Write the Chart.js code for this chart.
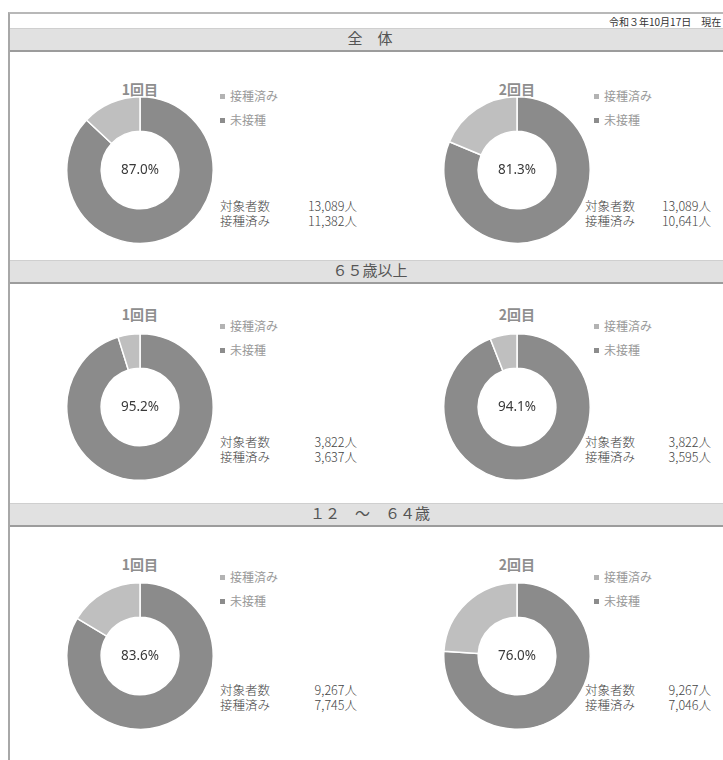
<!DOCTYPE html>
<html><head><meta charset="utf-8">
<script src="https://cdn.jsdelivr.net/npm/chart.js@4/dist/chart.umd.min.js"></script>
<style>
html,body{margin:0;padding:0;background:#fff;}
body{width:723px;height:760px;overflow:hidden;position:relative;font-family:"Noto Sans CJK JP","Noto Sans",sans-serif;}
.frame{position:absolute;left:8px;top:12px;width:800px;height:800px;border-left:2px solid #a8a8a8;border-top:2px solid #b8b8b8;}
.band{position:absolute;left:10px;width:760px;height:21px;background:#e1e1e1;border-top:1px solid #cfcfcf;border-bottom:2px solid #9c9c9c;}
.band span{position:absolute;left:0;width:720px;text-align:center;top:0;line-height:21px;font-family:"DejaVu Serif","Noto Sans CJK JP",serif;font-size:15px;color:#555;}
.date{position:absolute;left:609px;top:14px;font-size:10px;color:#333;white-space:nowrap;}
.title{position:absolute;width:80px;text-align:center;font-size:14px;font-weight:bold;color:#8e8e8e;}
.leg{position:absolute;font-size:12px;color:#9a9a9a;white-space:nowrap;line-height:14px;}
.leg i{display:inline-block;width:5px;height:5px;margin-right:5px;vertical-align:middle;position:relative;top:-1px;}
.stat{position:absolute;font-size:12.5px;color:#444;line-height:15px;white-space:nowrap;font-weight:300;}
.stat b{font-weight:300;position:absolute;right:0;}
canvas{position:absolute;}
</style></head><body>
<div class="frame"></div>
<div class="date">令和３年10月17日　現在</div>
<div id="root"></div>
<script>
// ---- data ----
const groupLabels = ['全　体', '６５歳以上', '１２　～　６４歳'];
const doseLabels = ['1回目', '2回目'];
const sliceLabels = ['接種済み', '未接種'];
const targets    = [13089, 13089, 3822, 3822, 9267, 9267];
const vaccinated = [11382, 10641, 3637, 3595, 7745, 7046];

// ---- layout ----
const bandTop = [28, 260, 503];
const donutCy = [170, 407, 656];
const titleY  = [79, 304, 554];
const legY    = [89, 319, 570];
const statY   = [198, 434, 682];
const colCx   = [140, 517];
const legX    = [220, 594];
const statX   = [220, 585];
const statW   = [137, 126];
const R = 72;
const cDone = '#8b8b8b', cNot = '#bfbfbf';
const legColors = ['#b3b3b3', '#8c8c8c'];

const root = document.getElementById('root');
const fmt = n => n.toLocaleString('en-US');

const centerText = {
  id: 'centerText',
  afterDraw(chart, args, opts) {
    const {ctx} = chart;
    const meta = chart.getDatasetMeta(0).data[0];
    ctx.save();
    ctx.font = '13.5px "Noto Sans","Noto Sans CJK JP",sans-serif';
    ctx.fillStyle = '#3a3a3a';
    ctx.textAlign = 'center';
    ctx.textBaseline = 'middle';
    ctx.fillText(opts.text, meta.x, meta.y);
    ctx.restore();
  }
};

groupLabels.forEach((g, gi) => {
  const band = document.createElement('div');
  band.className = 'band';
  band.style.top = bandTop[gi] + 'px';
  band.innerHTML = '<span>' + g + '</span>';
  root.appendChild(band);

  doseLabels.forEach((d, di) => {
    const k = gi * 2 + di;
    const done = vaccinated[k], total = targets[k];
    const pct = (done / total * 100).toFixed(1) + '%';
    const cx = colCx[di], cy = donutCy[gi];

    const t = document.createElement('div');
    t.className = 'title';
    t.style.left = (cx - 40) + 'px';
    t.style.top = titleY[gi] + 'px';
    t.textContent = d;
    root.appendChild(t);

    const leg = document.createElement('div');
    leg.className = 'leg';
    leg.style.left = legX[di] + 'px';
    leg.style.top = legY[gi] + 'px';
    leg.innerHTML = sliceLabels.map((s, si) =>
      '<div style="margin-bottom:10px"><i style="background:' + legColors[si] + '"></i>' + s + '</div>').join('');
    root.appendChild(leg);

    const st = document.createElement('div');
    st.className = 'stat';
    st.style.left = statX[di] + 'px';
    st.style.top = statY[gi] + 'px';
    st.style.width = statW[di] + 'px';
    st.innerHTML = '<div style="position:relative">対象者数<b>' + fmt(total) + '人</b></div>' +
                   '<div style="position:relative">接種済み<b>' + fmt(done) + '人</b></div>';
    root.appendChild(st);

    const cv = document.createElement('canvas');
    const size = 2 * R + 4;
    cv.width = size; cv.height = size;
    cv.style.width = size + 'px'; cv.style.height = size + 'px';
    cv.style.left = (cx - size / 2) + 'px';
    cv.style.top = (cy - size / 2) + 'px';
    root.appendChild(cv);

    new Chart(cv, {
      type: 'doughnut',
      data: {
        labels: sliceLabels,
        datasets: [{
          data: [done, total - done],
          backgroundColor: [cDone, cNot],
          borderColor: '#ffffff',
          borderWidth: 1.5
        }]
      },
      options: {
        responsive: false,
        animation: false,
        cutout: '53%',
        layout: {padding: 0},
        plugins: {
          legend: {display: false},
          tooltip: {enabled: false},
          centerText: {text: pct}
        }
      },
      plugins: [centerText]
    });
  });
});
</script>
</body></html>
